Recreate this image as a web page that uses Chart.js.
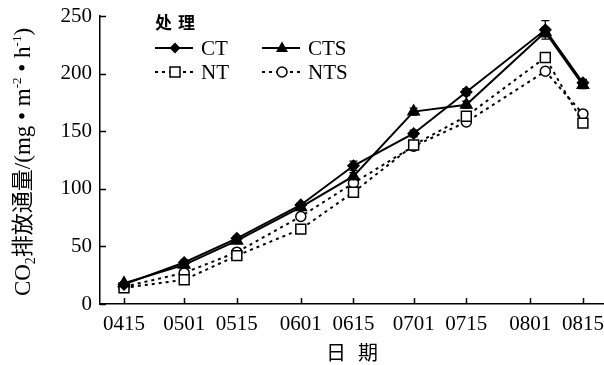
<!DOCTYPE html>
<html>
<head>
<meta charset="utf-8">
<script src="https://cdn.jsdelivr.net/npm/chart.js@4.4.1/dist/chart.umd.min.js"></script>
<style>
  html, body { margin: 0; padding: 0; background: #fff; }
  #wrap { width: 604px; height: 365px; position: relative; }
</style>
</head>
<body>
<div id="wrap"><canvas id="fluxChart"></canvas></div>
<script>
// sampling dates (days after 04-15) and axis tick labels
const tickLabels = ['0415', '0501', '0515', '0601', '0615', '0701', '0715', '0801', '0815'];
const tickDays   = [0, 16, 30, 47, 61, 77, 91, 108, 122];
const sampleDays = [0, 16, 30, 47, 61, 77, 91, 112, 122];

// CO2 flux, mg·m-2·h-1
const ctValues  = [17, 36, 57, 86, 120, 148, 184, 238, 192];
const ctsValues = [18, 34, 55, 84, 111, 167, 173, 236, 190];
const ntValues  = [14, 21, 42, 65, 97, 138, 163, 214, 157];
const ntsValues = [15, 27, 45, 76, 105, 137, 158, 202, 165];
const ctErr  = [1, 2, 2, 2, 4, 3, 3, 8, 3];
const ctsErr = [1, 2, 2, 2, 3, 3, 3, 4, 3];

const serif = '"Liberation Serif", "Times New Roman", serif';
const cjk = '"Noto Sans CJK SC", sans-serif';

function toPoints(vals) {
    return vals.map((v, i) => ({ x: sampleDays[i], y: v }));
}

// scales should not push the plot area in
function noPadding(scale) {
    scale.paddingLeft = 0;
    scale.paddingRight = 0;
    scale.paddingTop = 0;
    scale.paddingBottom = 0;
}

function drawMarker(ctx, style, x, y) {
    ctx.save();
    ctx.lineWidth = 1.5;
    ctx.strokeStyle = '#000';
    ctx.beginPath();
    if (style === 'diamond') {
        ctx.moveTo(x, y - 5.5); ctx.lineTo(x + 5.5, y); ctx.lineTo(x, y + 5.5); ctx.lineTo(x - 5.5, y);
        ctx.closePath(); ctx.fillStyle = '#000'; ctx.fill();
    } else if (style === 'triangle') {
        ctx.moveTo(x, y - 6.5); ctx.lineTo(x + 6, y + 4); ctx.lineTo(x - 6, y + 4);
        ctx.closePath(); ctx.fillStyle = '#000'; ctx.fill();
    } else if (style === 'square') {
        ctx.rect(x - 5, y - 5, 10, 10); ctx.fillStyle = '#fff'; ctx.fill(); ctx.stroke();
    } else {
        ctx.arc(x, y, 5, 0, Math.PI * 2); ctx.fillStyle = '#fff'; ctx.fill(); ctx.stroke();
    }
    ctx.restore();
}

const decorPlugin = {
    id: 'decor',
    afterDatasetsDraw(chart) {
        const ctx = chart.ctx;
        const xs = chart.scales.x, ys = chart.scales.y;
        ctx.save();
        ctx.strokeStyle = '#000';
        ctx.lineWidth = 1.3;
        // error bars
        [[ctValues, ctErr], [ctsValues, ctsErr]].forEach(([vals, errs]) => {
            vals.forEach((v, i) => {
                const px = xs.getPixelForValue(sampleDays[i]);
                const top = ys.getPixelForValue(v + errs[i]);
                const bot = ys.getPixelForValue(v - errs[i]);
                ctx.beginPath();
                ctx.moveTo(px, top); ctx.lineTo(px, bot);
                ctx.moveTo(px - 4, top); ctx.lineTo(px + 4, top);
                ctx.moveTo(px - 4, bot); ctx.lineTo(px + 4, bot);
                ctx.stroke();
            });
        });
        ctx.restore();
    },
    afterDraw(chart) {
        const ctx = chart.ctx;
        const xs = chart.scales.x, ys = chart.scales.y;
        const area = chart.chartArea;
        ctx.save();
        ctx.strokeStyle = '#000';
        ctx.lineWidth = 1.5;
        // inward ticks
        ctx.beginPath();
        tickDays.forEach(d => {
            const px = Math.round(xs.getPixelForValue(d)) + 0.5;
            ctx.moveTo(px, area.bottom); ctx.lineTo(px, area.bottom - 6);
        });
        [0, 50, 100, 150, 200, 250].forEach(v => {
            const py = Math.round(ys.getPixelForValue(v)) + 0.5;
            ctx.moveTo(area.left, py); ctx.lineTo(area.left + 6, py);
        });
        ctx.stroke();

        // y-axis title with sub/superscripts
        const parts = [
            { t: 'CO', f: '23px ' + serif, dy: 0 },
            { t: '2', f: '14px ' + serif, dy: 5 },
            { t: '排放通量', f: '22px ' + cjk, dy: 0 },
            { t: '/(mg • m', f: '23px ' + serif, dy: 0 },
            { t: '-2', f: '13px ' + serif, dy: -9 },
            { t: ' • h', f: '23px ' + serif, dy: 0 },
            { t: '-1', f: '13px ' + serif, dy: -9 },
            { t: ')', f: '23px ' + serif, dy: 0 }
        ];
        let total = 0;
        parts.forEach(p => { ctx.font = p.f; p.w = ctx.measureText(p.t).width; total += p.w; });
        ctx.translate(30, 162);
        ctx.rotate(-Math.PI / 2);
        ctx.fillStyle = '#000';
        ctx.textBaseline = 'alphabetic';
        ctx.textAlign = 'left';
        let cx = -total / 2;
        parts.forEach(p => { ctx.font = p.f; ctx.fillText(p.t, cx, p.dy); cx += p.w; });
        ctx.setTransform(1, 0, 0, 1, 0, 0);

        // x-axis title
        ctx.font = '20px ' + cjk;
        ctx.textAlign = 'center';
        ctx.textBaseline = 'middle';
        ctx.fillText('日', 336, 352);
        ctx.fillText('期', 368, 352);

        // legend
        ctx.font = 'bold 17px ' + cjk;
        ctx.textAlign = 'left';
        ctx.fillText('处', 155, 23);
        ctx.fillText('理', 178, 23);
        const items = [
            { label: 'CT', x: 155, y: 48, dash: [], marker: 'diamond' },
            { label: 'CTS', x: 262, y: 48, dash: [], marker: 'triangle' },
            { label: 'NT', x: 155, y: 72, dash: [3, 4], marker: 'square' },
            { label: 'NTS', x: 262, y: 72, dash: [3, 4], marker: 'circle' }
        ];
        items.forEach(it => {
            ctx.beginPath();
            ctx.setLineDash(it.dash);
            ctx.lineWidth = 2;
            ctx.moveTo(it.x, it.y); ctx.lineTo(it.x + 38, it.y);
            ctx.stroke();
            ctx.setLineDash([]);
            drawMarker(ctx, it.marker, it.x + 20, it.y);
            ctx.font = '21px ' + serif;
            ctx.textBaseline = 'middle';
            ctx.fillText(it.label, it.x + 46, it.y + 1);
        });
        ctx.restore();
    }
};

function lineSet(label, vals, dash, pointStyle, radius, filled) {
    return {
        label: label,
        data: toPoints(vals),
        borderColor: '#000',
        borderWidth: 2,
        borderDash: dash,
        pointStyle: pointStyle,
        pointRadius: radius,
        pointBorderWidth: 1.5,
        pointBorderColor: '#000',
        pointBackgroundColor: filled ? '#000' : '#fff',
        fill: false,
        tension: 0
    };
}

document.addEventListener('DOMContentLoaded', () => {
    const ctx = document.getElementById('fluxChart').getContext('2d');
    new Chart(ctx, {
        type: 'line',
        data: {
            datasets: [
                lineSet('CT', ctValues, [], 'rectRot', 5.5, true),
                lineSet('CTS', ctsValues, [], 'triangle', 6.5, true),
                lineSet('NT', ntValues, [3, 4], 'rect', 7, false),
                lineSet('NTS', ntsValues, [3, 4], 'circle', 5, false)
            ]
        },
        options: {
            responsive: true,
            maintainAspectRatio: false,
            animation: false,
            layout: { autoPadding: false, padding: { top: 16, right: 0, left: 0, bottom: 0 } },
            plugins: { legend: { display: false }, tooltip: { enabled: false } },
            scales: {
                x: {
                    type: 'linear',
                    min: -6.38,
                    max: 127.6,
                    afterBuildTicks: (scale) => { scale.ticks = tickDays.map(d => ({ value: d })); },
                    afterFit: (scale) => { scale.height = 61; noPadding(scale); },
                    ticks: {
                        autoSkip: false,
                        maxRotation: 0,
                        padding: 8,
                        color: '#000',
                        font: { family: serif, size: 21 },
                        callback: (value) => tickLabels[tickDays.indexOf(value)]
                    },
                    grid: { drawOnChartArea: false, drawTicks: false },
                    border: { color: '#000', width: 1.5 }
                },
                y: {
                    min: 0,
                    max: 250,
                    afterFit: (scale) => { scale.width = 100; noPadding(scale); },
                    ticks: {
                        stepSize: 50,
                        padding: 8,
                        color: '#000',
                        font: { family: serif, size: 21 }
                    },
                    grid: { drawOnChartArea: false, drawTicks: false },
                    border: { color: '#000', width: 1.5 }
                }
            }
        },
        plugins: [decorPlugin]
    });
});
</script>
</body>
</html>
